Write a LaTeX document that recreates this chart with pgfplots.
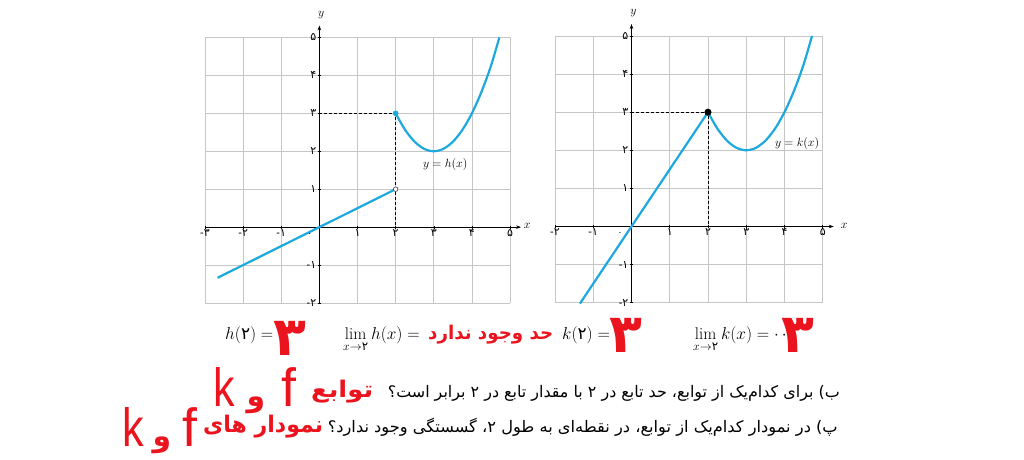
\documentclass[border=0pt]{standalone}
\usepackage{amsmath}
\usepackage{graphicx}
\usepackage{fontspec}
\usepackage{pgfplots}
\pgfplotsset{compat=1.18}
\usetikzlibrary{arrows.meta}
\newfontfamily\fa[Script=Arabic]{DejaVu Sans}
\newfontfamily\lsans{Liberation Sans}
\TeXXeTstate=1
\definecolor{curve}{RGB}{29,168,222}
\definecolor{redt}{RGB}{235,20,30}
\newcommand{\fs}[1]{\fontsize{#1}{#1}\selectfont}
\newcommand{\negl}[1]{{\lsans -}{\fa #1}}
\pgfplotsset{
  myax/.style={
    scale only axis, anchor=south west,
    ymin=-2, ymax=5, xmax=5,
    axis lines=middle,
    axis line style={black, line width=0.6bp},
    x axis line style={-{Stealth[length=5bp,width=3.5bp]}, shorten >=-11bp},
    y axis line style={-{Stealth[length=5bp,width=3.5bp]}, shorten >=-12bp},
    grid=major, grid style={gray!45, line width=0.7bp},
    major tick length=3bp, tick style={black, line width=0.5bp},
    xticklabel style={font=\fa\fs{11}, inner sep=0.5bp},
    yticklabel style={font=\fa\fs{11}, inner sep=1.5bp},
    ytick={-2,-1,1,2,3,4,5},
    yticklabels={\negl{۲},\negl{۱},۱,۲,۳,۴,۵},
    clip=false,
  },
  curv/.style={curve, line width=2.2bp},
}
\begin{document}
\begin{tikzpicture}[x=1bp,y=1bp]
\useasboundingbox (0,0) rectangle (1024,460);

% ---------- left: h ----------
\begin{axis}[myax, at={(205bp,157bp)}, width=305bp, height=265.5bp, xmin=-3,
  xtick={-3,-2,-1,1,2,3,4,5}, xticklabels={\negl{۳},\negl{۲},\negl{۱},۱,۲,۳,۴,۵}]
\addplot[black, line width=0.6bp, dash pattern=on 3bp off 2bp] coordinates {(0,3) (2,3) (2,0)};
\addplot[curv] coordinates {(-2.67,-1.335) (2,1)};
\addplot[curv, smooth] coordinates {(2,3) (2.25,2.5625) (2.5,2.25) (2.75,2.0625) (3,2) (3.25,2.0625) (3.5,2.25) (3.75,2.5625) (4,3) (4.25,3.5625) (4.5,4.25) (4.72,5)};
\addplot[only marks, mark=*, mark size=2.6bp, color=curve] coordinates {(2,3)};
\addplot[only marks, mark=*, mark size=2.3bp, mark options={fill=white, draw=black!75, line width=0.6bp}] coordinates {(2,1)};
\node[font=\fs{12.5}] at (axis cs:3.3,1.65) {$y=h(x)$};
\node[font=\fs{12}] at (axis cs:5.45,0.02) {$x$};
\node[font=\fs{12}] at (axis cs:0.05,5.6) {$y$};
\node[font=\fa\fs{9}] at (axis cs:-0.25,-0.2) {۰};
\end{axis}

% ---------- right: k ----------
\begin{axis}[myax, at={(555bp,157.3bp)}, width=267.7bp, height=266.7bp, xmin=-2,
  xtick={-2,-1,1,2,3,4,5}, xticklabels={\negl{۲},\negl{۱},۱,۲,۳,۴,۵}]
\addplot[black, line width=0.6bp, dash pattern=on 3bp off 2bp] coordinates {(0,3) (2,3) (2,0)};
\addplot[curv] coordinates {(-1.35,-2.025) (2,3)};
\addplot[curv, smooth] coordinates {(2,3) (2.25,2.5625) (2.5,2.25) (2.75,2.0625) (3,2) (3.25,2.0625) (3.5,2.25) (3.75,2.5625) (4,3) (4.25,3.5625) (4.5,4.25) (4.72,5)};
\addplot[only marks, mark=*, mark size=3.3bp, color=black] coordinates {(2,3)};
\node[font=\fs{12.5}] at (axis cs:4.33,2.18) {$y=k(x)$};
\node[font=\fs{12}] at (axis cs:5.56,0.02) {$x$};
\node[font=\fs{12}] at (axis cs:0.05,5.6) {$y$};
\node[font=\fa\fs{9}] at (axis cs:-0.3,-0.2) {۰};
\end{axis}

% ---------- line 1 ----------
\node[anchor=base west, inner sep=0, font=\fs{17}] at (225,120) {$h(\text{\fa ۲})=\cdot$};
\node[anchor=base, inner sep=0, text=redt, font=\fa\bfseries\fs{54}] at (290,104) {۳};
\node[anchor=base west, inner sep=0, font=\fs{17}] at (343,120) {$\displaystyle\lim_{x\to\text{\fa ۲}} h(x) =$};
\node[anchor=base west, inner sep=0, text=redt, font=\fa\bfseries\fs{19}] at (428,120) {\resizebox{125bp}{\height}{\beginR حد وجود ندارد\endR}};
\node[anchor=base west, inner sep=0, font=\fs{17}] at (562,120) {$k(\text{\fa ۲})=\cdot$};
\node[anchor=base, inner sep=0, text=redt, font=\fa\bfseries\fs{54}] at (626,107) {۳};
\node[anchor=base west, inner sep=0, font=\fs{17}] at (693,120) {$\displaystyle\lim_{x\to\text{\fa ۲}} k(x) = \cdot\,\cdot$};
\node[anchor=base, inner sep=0, text=redt, font=\fa\bfseries\fs{54}] at (798,107) {۳};

% ---------- line 2 ----------
\node[anchor=base, inner sep=0, text=redt, font=\lsans\fs{54}] at (224,53) {\scalebox{0.8}[1]{k}};
\node[anchor=base, inner sep=0, text=redt, font=\fa\bfseries\fs{30}] at (256,53) {و};
\node[anchor=base, inner sep=0, text=redt, font=\lsans\fs{54}] at (289,53) {f};
\node[anchor=base west, inner sep=0, text=redt, font=\fa\bfseries\fs{23}] at (311,62) {\resizebox{62bp}{\height}{\beginR توابع\endR}};
\node[anchor=base east, inner sep=0, font=\fa\fs{16}] at (840,62) {\resizebox{452bp}{\height}{\beginR ب) برای کدام‌یک از توابع، حد تابع در ۲ با مقدار تابع در ۲ برابر است؟\endR}};

% ---------- line 3 ----------
\node[anchor=base, inner sep=0, text=redt, font=\lsans\fs{54}] at (133,13) {\scalebox{0.8}[1]{k}};
\node[anchor=base, inner sep=0, text=redt, font=\fa\bfseries\fs{30}] at (162,13) {و};
\node[anchor=base, inner sep=0, text=redt, font=\lsans\fs{54}] at (190,13) {f};
\node[anchor=base west, inner sep=0, text=redt, font=\fa\bfseries\fs{23}] at (203,27) {\resizebox{120bp}{\height}{\beginR نمودار های\endR}};
\node[anchor=base east, inner sep=0, font=\fa\fs{16}] at (838,27) {\resizebox{510bp}{\height}{\beginR پ) در نمودار کدام‌یک از توابع، در نقطه‌ای به طول ۲، گسستگی وجود ندارد؟\endR}};
\end{tikzpicture}
\end{document}
